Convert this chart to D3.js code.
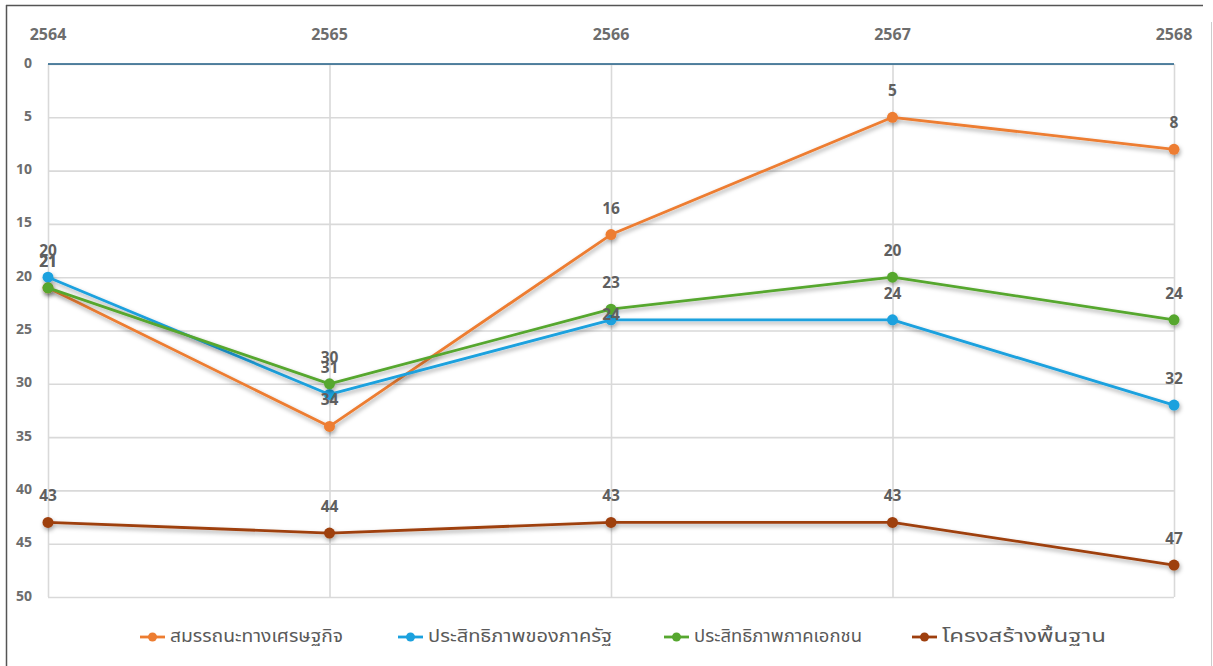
<!DOCTYPE html>
<html><head><meta charset="utf-8">
<script src="https://cdn.jsdelivr.net/npm/d3@7"></script>
<style>
html,body{margin:0;padding:0;background:#fff;}
svg{display:block;}
</style></head>
<body>
<svg id="chart" width="1213" height="666"></svg>
<script>
const years = ["2564","2565","2566","2567","2568"];
const yTicks = [0,5,10,15,20,25,30,35,40,45,50];
const seriesNames = ["สมรรถนะทางเศรษฐกิจ","ประสิทธิภาพของภาครัฐ","ประสิทธิภาพภาคเอกชน","โครงสร้างพื้นฐาน"];
const economic = [21,34,16,5,8];
const government = [20,31,24,24,32];
const business = [21,30,23,20,24];
const infrastructure = [43,44,43,43,47];
const colors = ["#ED7D31","#1BA1DE","#56A72F","#9E3F0E"];

(function(){
const series = [economic, government, business, infrastructure].map((v,i)=>({name:seriesNames[i], values:v, color:colors[i]}));

const svg = d3.select("#chart");
const mLeft = 48, mRight = 1174, mTop = 64, mBottom = 597;

const x = d3.scalePoint().domain(years).range([mLeft,mRight]);
const y = d3.scaleLinear().domain([0,50]).range([mTop,mBottom]);

// frame
svg.append("line").attr("x1",6.5).attr("x2",6.5).attr("y1",5).attr("y2",666).attr("stroke","#555").attr("stroke-width",1.5);
svg.append("line").attr("x1",6).attr("x2",1203).attr("y1",5.5).attr("y2",5.5).attr("stroke","#555").attr("stroke-width",1.5);
svg.append("line").attr("x1",1211.5).attr("x2",1211.5).attr("y1",22).attr("y2",666).attr("stroke","#ccc").attr("stroke-width",1);

const defs = svg.append("defs");
const f = defs.append("filter").attr("id","shadow").attr("x","-5%").attr("y","-20%").attr("width","110%").attr("height","140%");
f.append("feDropShadow").attr("dx",1).attr("dy",2.5).attr("stdDeviation",2).attr("flood-color","#000").attr("flood-opacity",0.35);

// horizontal gridlines
const gY = svg.append("g").attr("transform",`translate(${mLeft},0)`)
  .call(d3.axisLeft(y).tickValues(yTicks).tickSize(-(mRight-mLeft)).tickFormat(""));
gY.select(".domain").remove();
gY.selectAll(".tick line").attr("stroke","#d9d9d9").attr("stroke-width",1.6);

// vertical gridlines
const gX = svg.append("g").attr("transform",`translate(0,${mBottom})`)
  .call(d3.axisBottom(x).tickSize(-(mBottom-mTop)).tickFormat(""));
gX.select(".domain").remove();
gX.selectAll(".tick line").attr("stroke","#d9d9d9").attr("stroke-width",1.6);
// zero line on top
svg.append("line").attr("x1",mLeft).attr("x2",mRight).attr("y1",y(0)).attr("y2",y(0)).attr("stroke","#1F5E86").attr("stroke-width",1.6);

// y labels
svg.append("g").selectAll("text").data(yTicks).join("text")
  .attr("x",32).attr("y",d=>y(d)-2).attr("text-anchor","end").attr("dominant-baseline","central")
  .attr("font-family","Open Sans, sans-serif").attr("font-weight","bold").attr("font-size",14).attr("fill","#6d6d6d")
  .text(d=>d);

// x labels (top)
svg.append("g").selectAll("text").data(years).join("text")
  .attr("x",d=>x(d)).attr("y",34).attr("text-anchor","middle").attr("dominant-baseline","central")
  .attr("font-family","Open Sans, sans-serif").attr("font-weight","bold").attr("font-size",16).attr("fill","#6d6d6d")
  .text(d=>d);

const line = d3.line().x((d,i)=>x(years[i])).y(d=>y(d));

const gS = svg.append("g");
series.forEach(s=>{
  const g = gS.append("g").attr("filter","url(#shadow)");
  g.append("path").attr("d",line(s.values)).attr("fill","none").attr("stroke",s.color).attr("stroke-width",2.8).attr("stroke-linejoin","round");
  g.selectAll("circle").data(s.values).join("circle")
    .attr("cx",(d,i)=>x(years[i])).attr("cy",d=>y(d)).attr("r",5.5).attr("fill",s.color);
});

// data labels
series.forEach((s,si)=>{
  svg.append("g").selectAll("text").data(s.values).join("text")
    .attr("x",(d,i)=>x(years[i]))
    .attr("y",(d,i)=> y(d) + ((si===1 && i===2) ? -6 : -27))
    .attr("text-anchor","middle").attr("dominant-baseline","central")
    .attr("font-family","Open Sans, sans-serif").attr("font-weight","bold").attr("font-size",15.5).attr("fill","#5f5f5f")
    .text(d=>d);
});

// legend
const legendX = [140,398,664,912];
const legendW = [173,184,168,164];
const lg = svg.append("g");
series.forEach((s,i)=>{
  const g = lg.append("g").attr("transform",`translate(${legendX[i]},637)`);
  g.append("line").attr("x1",0).attr("x2",25).attr("y1",0).attr("y2",0).attr("stroke",s.color).attr("stroke-width",2.8);
  g.append("circle").attr("cx",12.5).attr("cy",0).attr("r",4.5).attr("fill",s.color);
  g.append("text").attr("x",30).attr("y",0).attr("dominant-baseline","central")
    .attr("font-family","Noto Sans Thai, Noto Sans, sans-serif").attr("font-size",17).attr("fill","#5a5a5a")
    .attr("textLength",legendW[i]).attr("lengthAdjust","spacingAndGlyphs")
    .text(s.name);
});
})();
</script>
</body></html>
